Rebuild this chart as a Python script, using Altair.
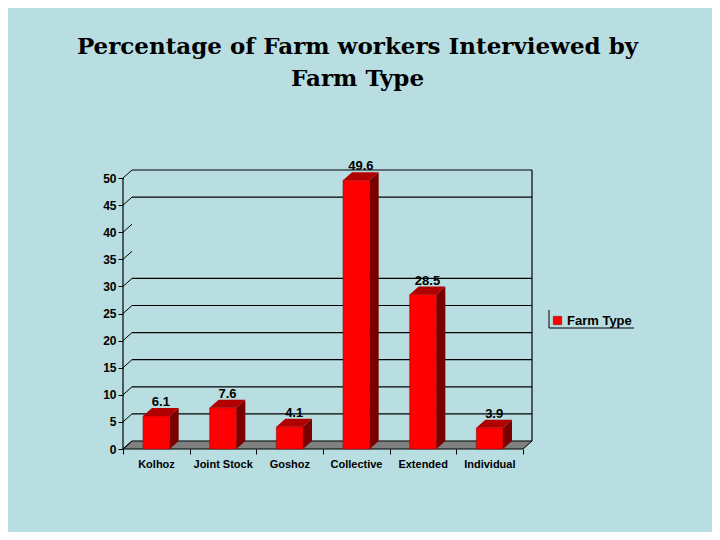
import altair as alt
import pandas as pd

categories = ["Kolhoz", "Joint Stock", "Goshoz", "Collective", "Extended", "Individual"]
values = [6.1, 7.6, 4.1, 49.6, 28.5, 3.9]
series_name = "Farm Type"
y_ticks = [0, 5, 10, 15, 20, 25, 30, 35, 40, 45, 50]
grid_values = [5, 10, 15, 20, 25, 30, 45, 50]
title_lines = ["Percentage of Farm workers Interviewed by", "Farm Type"]

# 3D geometry in data units
D = 0.135   # depth along x
E = 1.48    # depth along y
HW = 0.2    # half bar width
XMIN, XMAX = -0.5, len(categories) - 0.5
YMAX = 50

W, H = 409, 279
FONT = "Liberation Sans"

front = pd.DataFrame({
    "cat": categories, "series": series_name,
    "x0": [i - HW for i in range(len(categories))],
    "x1": [i + HW for i in range(len(categories))],
    "v": values, "zero": 0.0,
})

side_rows, top_rows = [], []
for i, (c, v) in enumerate(zip(categories, values)):
    side_rows += [dict(cat=c, x=i + HW, lo=0.0, hi=v),
                  dict(cat=c, x=i + HW + D, lo=E, hi=v + E)]
    top_rows += [dict(cat=c, x=i - HW, lo=v, hi=v),
                 dict(cat=c, x=i - HW + D, lo=v, hi=v + E),
                 dict(cat=c, x=i + HW, lo=v, hi=v + E),
                 dict(cat=c, x=i + HW + D, lo=v + E, hi=v + E)]
side = pd.DataFrame(side_rows)
top = pd.DataFrame(top_rows)

floor = pd.DataFrame([
    dict(x=XMIN, lo=0.0, hi=0.0),
    dict(x=XMIN + D, lo=0.0, hi=E),
    dict(x=XMAX, lo=0.0, hi=E),
    dict(x=XMAX + D, lo=E, hi=E),
])

grid = pd.DataFrame({"g": [g + E for g in grid_values], "xa": XMIN + D, "xb": XMAX + D})
diag = pd.DataFrame({"g": y_ticks, "g2": [t + E for t in y_ticks], "xa": XMIN, "xb": XMIN + D})
walls = pd.DataFrame({"x": [XMIN, XMAX + D], "y": [0.0, E], "y2": [float(YMAX), YMAX + E]})
labels = pd.DataFrame({"x": [i + D / 2 for i in range(len(categories))],
                       "y": [v + E for v in values],
                       "t": [f"{v:.1f}" for v in values]})
bounds = pd.DataFrame({"b": [XMIN + k for k in range(len(categories) + 1)]})

xs = alt.Scale(domain=[XMIN, XMAX + D], nice=False, zero=False)
ys = alt.Scale(domain=[0, YMAX + E], nice=False, zero=False)

label_expr = "[" + ",".join(f"'{c}'" for c in categories) + ",''][round(datum.value + 0.5)]"

x_axis = alt.Axis(values=list(bounds["b"]), labelExpr=label_expr, labelOffset=33,
                  tickSize=5, tickColor="black", domain=False, grid=False, title=None,
                  labelFont=FONT, labelFontSize=11, labelFontWeight="bold", labelColor="black",
                  labelPadding=4, labelOverlap=False, labelBound=False, labelFlush=False)
y_axis = alt.Axis(values=y_ticks, tickSize=5, tickColor="black", domain=False, grid=False,
                  title=None, labelFont=FONT, labelFontSize=12, labelFontWeight="bold",
                  labelColor="black", labelPadding=2, labelOverlap=False)


def X(field):
    return alt.X(field, scale=xs, axis=x_axis)


def Y(field):
    return alt.Y(field, scale=ys, axis=y_axis)


base_floor = alt.Chart(floor).mark_area(color="#808080", stroke="black", strokeWidth=1).encode(
    x=X("x:Q"), y=Y("hi:Q"), y2="lo:Q")

grid_lines = alt.Chart(grid).mark_rule(color="black", strokeWidth=1.2).encode(
    x=X("xa:Q"), x2="xb:Q", y=Y("g:Q"))

diag_lines = alt.Chart(diag).mark_rule(color="black", strokeWidth=1).encode(
    x=X("xa:Q"), x2="xb:Q", y=Y("g:Q"), y2="g2:Q")

wall_lines = alt.Chart(walls).mark_rule(color="black", strokeWidth=1.2).encode(
    x=X("x:Q"), y=Y("y:Q"), y2="y2:Q")

side_faces = alt.Chart(side).mark_area(color="#7A0000").encode(
    x=X("x:Q"), y=Y("hi:Q"), y2="lo:Q", detail="cat:N")

top_faces = alt.Chart(top).mark_area(color="#B00000").encode(
    x=X("x:Q"), y=Y("hi:Q"), y2="lo:Q", detail="cat:N")

front_faces = alt.Chart(front).mark_rect(stroke="#8B0000", strokeWidth=0.5).encode(
    x=X("x0:Q"), x2="x1:Q",
    y=Y("v:Q"), y2="zero:Q",
    color=alt.Color("series:N", scale=alt.Scale(domain=[series_name], range=["#FF0000"]),
                    legend=alt.Legend(title=None, orient="none", legendX=428, legendY=144,
                                      symbolType="square", symbolSize=70, symbolStrokeWidth=0.5,
                                      symbolStrokeColor="#600000",
                                      labelFont=FONT, labelFontSize=13, labelFontWeight="bold",
                                      labelColor="black", padding=0, labelOffset=3)),
)

value_text = alt.Chart(labels).mark_text(font=FONT, fontSize=13, fontWeight="bold",
                                         color="black", baseline="middle", dy=-6).encode(
    x=X("x:Q"), y=Y("y:Q"), text="t:N")

legend_left = alt.Chart(bounds.head(1)).mark_rule(color="black", strokeWidth=1).encode(
    x=alt.value(426), y=alt.value(140), y2=alt.value(158))
legend_bottom = alt.Chart(bounds.head(1)).mark_rule(color="black", strokeWidth=1).encode(
    x=alt.value(426), x2=alt.value(511), y=alt.value(158))

chart = alt.layer(
    base_floor, grid_lines, diag_lines, wall_lines,
    side_faces, top_faces, front_faces, value_text,
    legend_left, legend_bottom,
).properties(
    width=W, height=H,
    title=alt.TitleParams(title_lines, font="DejaVu Serif", fontSize=23, fontWeight="bold",
                          color="black", anchor="middle", frame="group", dx=30, offset=69,
                          lineHeight=32),
    background="#B9DEE2",
    autosize=alt.AutoSizeParams(type="none"),
    padding={"left": 115, "top": 162, "right": 180, "bottom": 83},
).configure_view(stroke=None)

chart.save("out.html", embed_options={"renderer": "svg", "actions": False})
